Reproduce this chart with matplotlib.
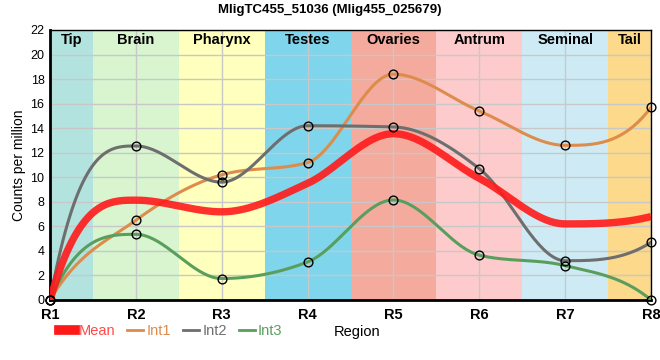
import numpy as np
import matplotlib.pyplot as plt
from matplotlib.lines import Line2D

plt.rcParams['font.family'] = ['Liberation Sans', 'DejaVu Sans']

# data
regions = ['R1', 'R2', 'R3', 'R4', 'R5', 'R6', 'R7', 'R8']
band_names = ['Tip', 'Brain', 'Pharynx', 'Testes', 'Ovaries', 'Antrum', 'Seminal', 'Tail']
band_colors = ['#b3e3df', '#d8f5d0', '#ffffbe', '#7fd5ec', '#f4ab9d', '#fdcbcb', '#ceebf5', '#fcd98b']
int1 = [0, 6.5, 10.2, 11.2, 18.4, 15.4, 12.6, 15.7]
int2 = [0, 12.55, 9.6, 14.2, 14.1, 10.7, 3.2, 4.7]
int3 = [0, 5.35, 1.75, 3.1, 8.15, 3.65, 2.8, 0]
mean = list(np.mean([int1, int2, int3], axis=0))


# monotone cubic in x, with steeper end tangents
def monotone(xs, ys, n=40):
    xs = np.asarray(xs, float)
    ys = np.asarray(ys, float)
    h = np.diff(xs)
    s = np.diff(ys) / h
    m = np.zeros(len(xs))
    for i in range(1, len(xs) - 1):
        p = (s[i - 1] * h[i] + s[i] * h[i - 1]) / (h[i - 1] + h[i])
        m[i] = (np.sign(s[i - 1]) + np.sign(s[i])) * min(abs(s[i - 1]), abs(s[i]), 0.5 * abs(p))
    m[0] = 3 * s[0] - 1.5 * m[1]
    m[-1] = 3 * s[-1] - 1.5 * m[-2]
    px, py = [], []
    for i in range(len(xs) - 1):
        t = np.linspace(0, 1, n)
        h00 = 2 * t**3 - 3 * t**2 + 1
        h10 = t**3 - 2 * t**2 + t
        h01 = -2 * t**3 + 3 * t**2
        h11 = t**3 - t**2
        px.extend(xs[i] + t * h[i])
        py.extend(h00 * ys[i] + h10 * h[i] * m[i] + h01 * ys[i + 1] + h11 * h[i] * m[i + 1])
    return np.array(px), np.array(py)


x = np.arange(len(regions))

fig = plt.figure(figsize=(6.6, 3.6), dpi=100)
ax = fig.add_axes([0.0758, 0.1667, 0.9106, 0.75])

edges = [0, 0.5, 1.5, 2.5, 3.5, 4.5, 5.5, 6.5, 7]
for i, (name, col) in enumerate(zip(band_names, band_colors)):
    ax.axvspan(edges[i], edges[i + 1], color=col, lw=0, zorder=0)
    ax.text((edges[i] + edges[i + 1]) / 2, 21.2, name, ha='center', va='center',
            fontsize=10.5, fontweight='bold', zorder=5)

for yv in range(0, 23, 2):
    ax.axhline(yv, color='#c8c8c8', lw=1, zorder=1)
for xv in x:
    ax.axvline(xv, color='#c8c8c8', lw=1, zorder=1)

series = [('Int1', int1, '#dd8c4c'), ('Int2', int2, '#6e6e6e'), ('Int3', int3, '#5a9e5e')]
for name, vals, col in series:
    sx, sy = monotone(x, vals)
    ax.plot(sx, sy, color=col, lw=2.2, zorder=3, solid_capstyle='round')

mx, my = monotone(x, mean)
ax.plot(mx, my, color='#ff1a1a', lw=5.3, alpha=0.9, zorder=4, solid_capstyle='butt')

for name, vals, col in series:
    ax.plot(x, vals, 'o', ms=6.3, mfc='none', mec='black', mew=1, zorder=6, clip_on=False)

ax.set_xlim(0, 7)
ax.set_ylim(0, 22)
ax.set_xticks(x)
ax.set_xticklabels(regions, fontsize=10.5, fontweight='bold')
ax.set_yticks(range(0, 23, 2))
ax.tick_params(axis='y', labelsize=9, length=0, pad=4)
ax.tick_params(axis='x', length=0, pad=6)
ax.set_ylabel('Counts per million', fontsize=10, labelpad=3)
for side in ['left', 'bottom']:
    ax.spines[side].set_linewidth(2)
for side in ['top', 'right']:
    ax.spines[side].set_linewidth(1)

fig.suptitle('MligTC455_51036 (Mlig455_025679)', fontsize=9.5, fontweight='bold', y=0.99)

handles = [Line2D([], [], color='#ff1a1a', lw=7),
           Line2D([], [], color='#dd8c4c', lw=2),
           Line2D([], [], color='#6e6e6e', lw=2),
           Line2D([], [], color='#5a9e5e', lw=2)]
leg = fig.legend(handles, ['Mean', 'Int1', 'Int2', 'Int3'], loc='center left',
                 bbox_to_anchor=(0.09, 0.08), ncol=4, frameon=False, fontsize=10.5,
                 handlelength=1.1, handletextpad=0.2, columnspacing=0.85, borderpad=0,
                 borderaxespad=0)
for txt, col in zip(leg.get_texts(), ['#ff4a4a', '#dd8c4c', '#6e6e6e', '#5a9e5e']):
    txt.set_color(col)
fig.text(0.505, 0.078, 'Region', fontsize=10.5, va='center')

fig.savefig('out.png', dpi=100)
